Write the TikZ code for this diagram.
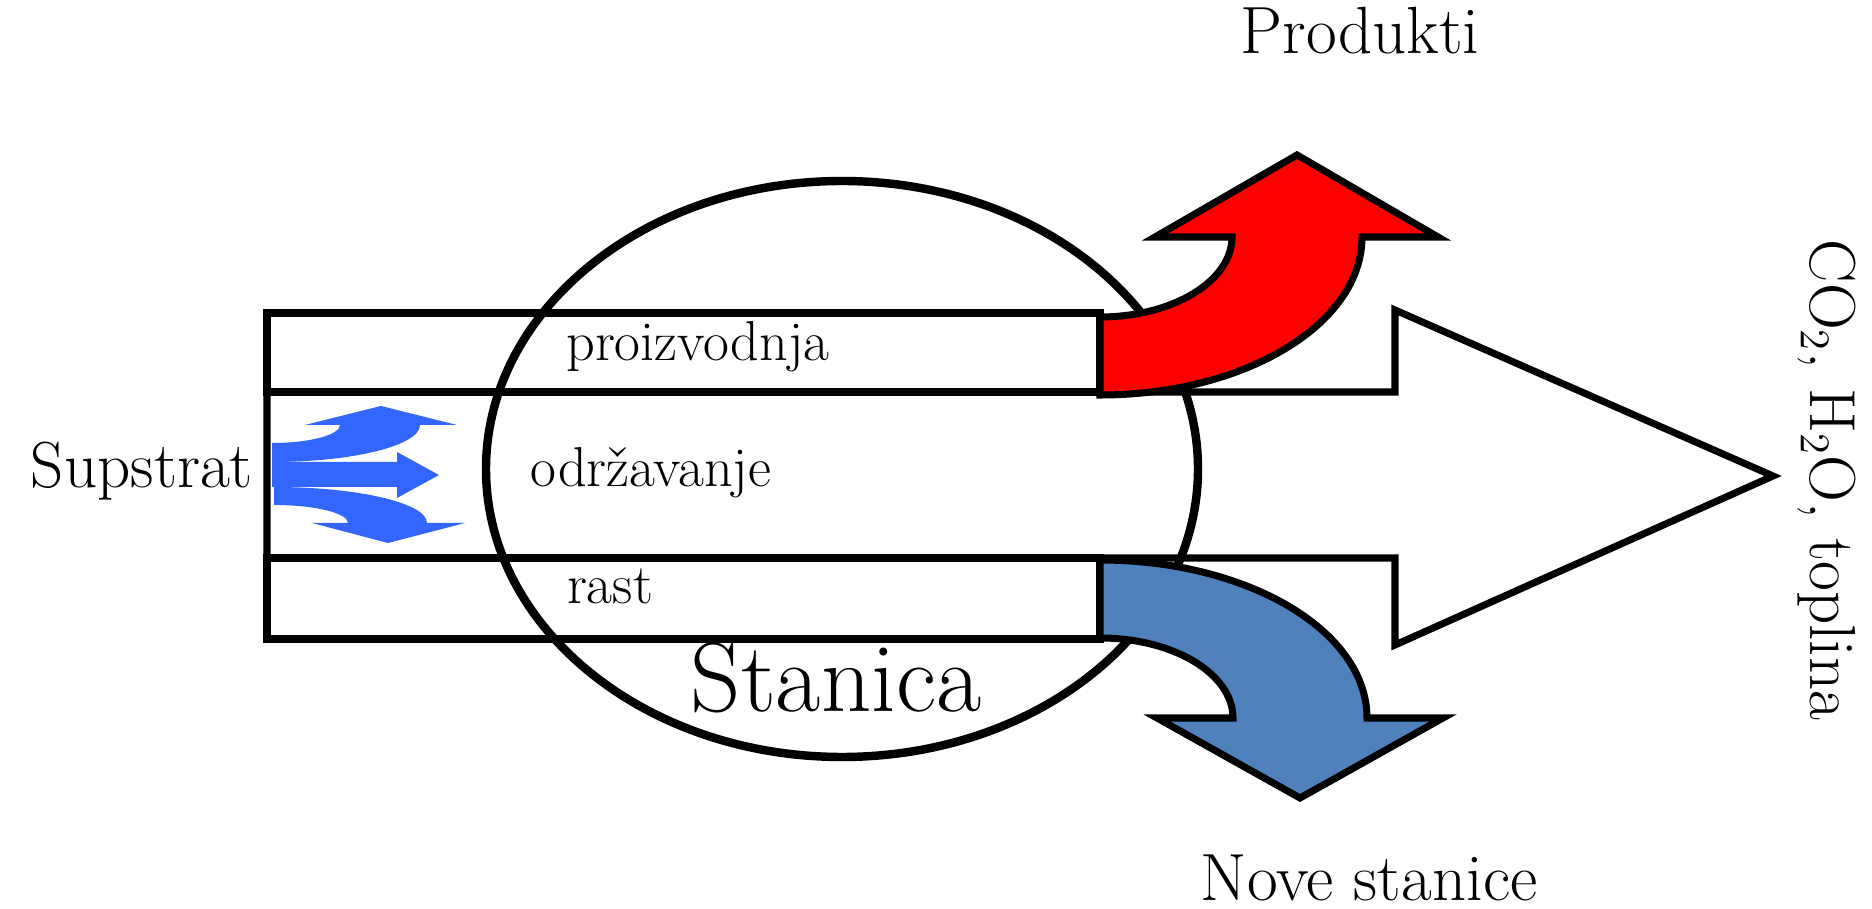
\documentclass[tikz,border=0pt]{standalone}
\usepackage{tikz}
\definecolor{plava}{RGB}{79,129,189}
\definecolor{svijetloplava}{RGB}{51,102,255}
\tikzset{
	obrub/.style={line width=2pt},
	natpis/.style={inner sep=0pt, anchor=base, font=\fontsize{16}{19}\selectfont},
	veliki/.style={inner sep=0pt, anchor=base, font=\fontsize{18.5}{22}\selectfont}
}
\begin{document}
\begin{tikzpicture}[x=0.01cm, y=0.01cm]
		\useasboundingbox (0,0) rectangle (1872,909);
		% Pravokutnici (proizvodnja, rast)
		\draw [obrub] (267,517) rectangle (1100,596);
		\draw [obrub] (267,270) rectangle (1100,351);
		% Velika strelica (održavanje)
		\draw [obrub] (267,517) -- (1395,517) -- (1395,599) -- (1773,433) -- (1395,264) -- (1395,351) -- (267,351) -- cycle;
		% Stanica
		\draw [obrub, line width=2.4pt] (842,440) ellipse [x radius=356, y radius=288];
		% Produkti
		\draw [obrub, fill=red] (1100,514) -- (1100,592) arc [start angle=-90, end angle=0, x radius=132, y radius=80] -- (1155,672) -- (1297,754) -- (1438,672) -- (1362,672) arc [start angle=0, end angle=-90, x radius=262, y radius=158] -- cycle;
		% Nove stanice
		\draw [obrub, fill=plava] (1100,349) -- (1100,271) arc [start angle=90, end angle=0, x radius=133, y radius=80] -- (1157,191) -- (1300,111) -- (1443,191) -- (1367,191) arc [start angle=0, end angle=90, x radius=267, y radius=158] -- cycle;
		% Supstrat ulazi
		\fill [svijetloplava] (272,447) -- (397,447) -- (397,457) -- (439,434) -- (397,411) -- (397,422) -- (272,422) -- cycle;
		\fill [svijetloplava] (272,447) -- (272,466) arc [start angle=-90, end angle=0, x radius=68, y radius=18] -- (305,484) -- (381,503) -- (457,484) -- (420,484) arc [start angle=0, end angle=-90, x radius=148, y radius=37] -- cycle;
		\fill [svijetloplava] (274,422) arc [start angle=90, end angle=0, x radius=153, y radius=36] -- (465,386) -- (388,366) -- (312,386) -- (348,386) arc [start angle=0, end angle=90, x radius=74, y radius=18] -- cycle;
		% Natpisi
		\node [veliki] (supstrat) at (142,421) {Supstrat};
		\node [natpis] (proizvodnja) at (698,548) {proizvodnja};
		\node [natpis] (odrzavanje) at (651,422) {održavanje};
		\node [natpis] (rast) at (610,305) {rast};
		\node [veliki, font=\fontsize{28}{32}\selectfont] (stanica) at (836,197) {Stanica};
		\node [veliki, font=\fontsize{19}{22}\selectfont] (produkti) at (1360,855) {Produkti};
		\node [veliki, font=\fontsize{19}{22}\selectfont] (nove) at (1369,8) {Nove stanice};
		\node [veliki, rotate=-90] (plinovi) at (1810,429) {CO$_2$, H$_2$O, toplina};
\end{tikzpicture}
\end{document}
